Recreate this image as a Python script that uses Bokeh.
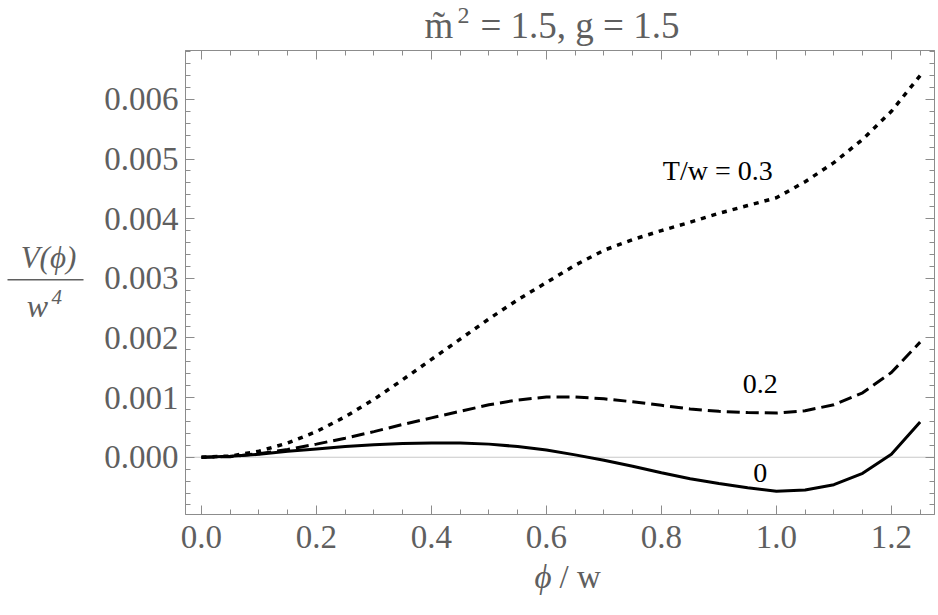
from bokeh.plotting import figure
from bokeh.models import (Range1d, SingleIntervalTicker, PrintfTickFormatter,
                          CustomJSTickFormatter, LinearAxis, Label, Span)
from bokeh.layouts import column, row
from bokeh.core.properties import value
from bokeh.embed import file_html
from bokeh.resources import INLINE

# ---------------- data ----------------
phi_over_w = [0.00, 0.05, 0.10, 0.15, 0.20, 0.25, 0.30, 0.35, 0.40, 0.45,
              0.50, 0.55, 0.60, 0.65, 0.70, 0.75, 0.80, 0.85, 0.90, 0.95,
              1.00, 1.05, 1.10, 1.15, 1.20, 1.25]

v_T00 = [0.0, 0.000015, 0.00005, 0.00010, 0.00014, 0.00018, 0.00021, 0.00023,
         0.00024, 0.00024, 0.00022, 0.00018, 0.00012, 0.00004, -0.00005,
         -0.00015, -0.00026, -0.00036, -0.00044, -0.00051, -0.00057, -0.00055,
         -0.00046, -0.00027, 0.00005, 0.00059]

v_T02 = [0.0, 0.00001, 0.00006, 0.00013, 0.00022, 0.00032, 0.00043, 0.00055,
         0.00066, 0.00077, 0.00088, 0.00096, 0.00101, 0.00101, 0.00098,
         0.00093, 0.00087, 0.00081, 0.00077, 0.00075, 0.00074, 0.00078,
         0.00088, 0.00108, 0.00142, 0.00193]

v_T03 = [0.0, 0.00002, 0.00010, 0.00024, 0.00043, 0.00068, 0.00097, 0.00130,
         0.00164, 0.00198, 0.00232, 0.00264, 0.00293, 0.00322, 0.00347,
         0.00365, 0.00380, 0.00394, 0.00409, 0.00422, 0.00435, 0.00462,
         0.00494, 0.00533, 0.00580, 0.00640]

curve_labels = ["0", "0.2", "T/w = 0.3"]

# ---------------- layout constants ----------------
W, H = 938, 615
LEFT_W = 100                      # width of the y-label strip
TOP_H = 50                        # height of the title strip
BOT_H = 55                        # height of the x-label strip
MAIN_W = W - LEFT_W
MAIN_H = H - TOP_H - BOT_H
FT, FB = 50, 514                  # frame top / bottom on the page
XR = (-0.0278, 1.275)
YR = (-0.00096, 0.00682)

SERIF = "Liberation Serif"
GRAY_TXT = "#5f5f5f"
GRAY_FRAME = "#8c8c8c"


def strip(w, h, x0, x1, ytop, ybot):
    """helper figure used only for texts; its y range runs top->bottom in page pixels"""
    f = figure(width=w, height=h, output_backend="svg", toolbar_location=None,
               title=None, x_range=Range1d(x0, x1), y_range=Range1d(ybot, ytop),
               x_axis_type=None, y_axis_type=None, min_border=0)
    f.outline_line_color = None
    f.xgrid.visible = False
    f.ygrid.visible = False
    f.background_fill_color = "white"
    f.border_fill_color = "white"
    return f


def txt(f, x, yc, s, size, align="left", italic=False):
    f.text(x=[x], y=[yc], text=[s], text_font=value(SERIF),
           text_font_style=value("italic" if italic else "normal"),
           text_font_size=size, text_color=GRAY_TXT, text_align=align,
           text_baseline="middle")


# ---------------- main plot ----------------
p = figure(width=MAIN_W, height=MAIN_H, output_backend="svg", toolbar_location=None,
           title=None, x_range=Range1d(*XR), y_range=Range1d(*YR),
           min_border_left=85, min_border_right=4,
           min_border_top=0, min_border_bottom=46,
           x_axis_type=None, y_axis_type=None)
p.background_fill_color = "white"
p.border_fill_color = "white"
p.outline_line_color = GRAY_FRAME
p.outline_line_width = 1
p.xgrid.visible = False
p.ygrid.visible = False


def make_axis(kind, labels):
    if kind == "x":
        ticker = SingleIntervalTicker(interval=0.2, num_minor_ticks=4)
        fmt = PrintfTickFormatter(format="%.1f")
    else:
        ticker = SingleIntervalTicker(interval=0.001, num_minor_ticks=5)
        fmt = PrintfTickFormatter(format="%.3f")
    if not labels:
        fmt = CustomJSTickFormatter(code="return ''")
    ax = LinearAxis(ticker=ticker, formatter=fmt)
    ax.axis_line_color = GRAY_FRAME
    ax.major_tick_line_color = GRAY_FRAME
    ax.minor_tick_line_color = GRAY_FRAME
    ax.major_tick_in = 9
    ax.major_tick_out = 0
    ax.minor_tick_in = 5
    ax.minor_tick_out = 0
    ax.major_label_text_font = SERIF
    ax.major_label_text_font_size = "33px"
    ax.major_label_text_color = GRAY_TXT
    ax.major_label_standoff = (11 if kind == "x" else 7) if labels else 0
    return ax


p.add_layout(make_axis("x", True), "below")
p.add_layout(make_axis("y", True), "left")
p.add_layout(make_axis("x", False), "above")
p.add_layout(make_axis("y", False), "right")

# zero line
p.add_layout(Span(location=0, dimension="width", line_color="#c8c8c8",
                  line_width=1, level="underlay"))

# curves
p.line(phi_over_w, v_T00, line_color="black", line_width=3)
p.line(phi_over_w, v_T02, line_color="black", line_width=3, line_dash="13 6")
p.line(phi_over_w, v_T03, line_color="black", line_width=3.5, line_dash="5 6")

# curve labels (positions in data units)
for s, lx, ly in zip(curve_labels, [0.972, 0.972, 0.898],
                     [-0.000265, 0.00122, 0.0048]):
    p.add_layout(Label(x=lx, y=ly, text=s, text_align="center",
                       text_baseline="middle", text_font=SERIF,
                       text_font_size="28px", text_color="black"))

# ---------------- title strip (page pixels) ----------------
t = strip(W, TOP_H, 0, W, 0, TOP_H)
txt(t, 424, 25, "m\u0303", "37px")
txt(t, 457, 15, "2", "24px")
txt(t, 480, 25, "= 1.5, g = 1.5", "37px")

# ---------------- y-label strip (fraction; frame aligned with main frame) ----------------
yl = strip(LEFT_W, MAIN_H, 0, LEFT_W, FT, FB)
txt(yl, 48, 257, "V(\u03d5)", "31px", align="center", italic=True)
yl.segment(x0=[7], y0=[279.3], x1=[83], y1=[279.3],
           line_color=GRAY_TXT, line_width=1.6)
txt(yl, 37, 305, "w", "32px", align="center", italic=True)
txt(yl, 51, 296, "4", "21px", italic=True)

# ---------------- x-label strip (page pixels) ----------------
xl = strip(W, BOT_H, 0, W, H - BOT_H, H)
txt(xl, 551, 576, "\u03d5", "33px", align="right", italic=True)
txt(xl, 559, 576, "/ w", "33px")

layout = column(t, row(yl, p), xl)
open("out.html", "w").write(file_html(layout, INLINE))
